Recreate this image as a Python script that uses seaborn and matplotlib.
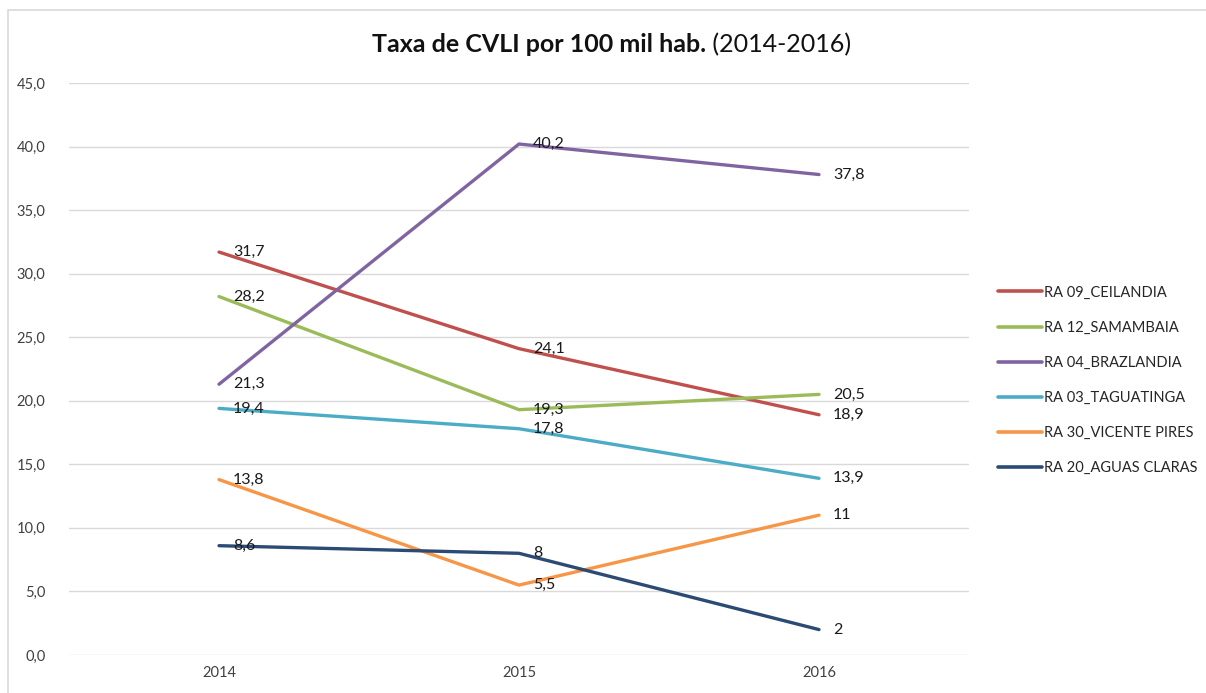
import matplotlib
matplotlib.use("Agg")
import matplotlib.pyplot as plt
import seaborn as sns
import pandas as pd
from matplotlib.patches import Rectangle

years = ["2014", "2015", "2016"]
series_names = ["RA 09_CEILANDIA", "RA 12_SAMAMBAIA", "RA 04_BRAZLANDIA",
                "RA 03_TAGUATINGA", "RA 30_VICENTE PIRES", "RA 20_AGUAS CLARAS"]
ceilandia = [31.7, 24.1, 18.9]
samambaia = [28.2, 19.3, 20.5]
brazlandia = [21.3, 40.2, 37.8]
taguatinga = [19.4, 17.8, 13.9]
vicente_pires = [13.8, 5.5, 11]
aguas_claras = [8.6, 8, 2]
colors = ["#C0504D", "#9BBB59", "#8064A2", "#4BACC6", "#F79646", "#2C4B74"]
yticks = [0, 5, 10, 15, 20, 25, 30, 35, 40, 45]

all_vals = [ceilandia, samambaia, brazlandia, taguatinga, vicente_pires, aguas_claras]
rows = []
for name, vals in zip(series_names, all_vals):
    for i, v in enumerate(vals):
        rows.append({"idx": i, "Ano": years[i], "Série": name, "Valor": v})
df = pd.DataFrame(rows)

sns.set_theme(style="white")
plt.rcParams["font.family"] = ["Lato", "DejaVu Sans"]

fig = plt.figure(figsize=(12.06, 6.93), dpi=100)
fig.patches.append(Rectangle((8 / 1206, -0.01), 1.2, 1.0 - 10 / 693 + 0.01,
                             transform=fig.transFigure, fill=False,
                             edgecolor="#D9D9D9", linewidth=1.2))
ax = fig.add_axes([69 / 1206, 1 - 655 / 693, 900 / 1206, (655 - 83) / 693])

sns.lineplot(data=df, x="idx", y="Valor", hue="Série", hue_order=series_names,
             palette=colors, linewidth=2.4, sort=False, ax=ax, legend=True)

def fmt(v):
    if float(v).is_integer():
        return str(int(v))
    return f"{v:.1f}".replace(".", ",")

for _, r in df.iterrows():
    ax.annotate(fmt(r["Valor"]), (r["idx"], r["Valor"]), xytext=(10, 0),
                textcoords="offset points", va="center", ha="left",
                fontsize=11.5, color="#1a1a1a")

ax.set_xlim(-0.5, 2.5)
ax.set_ylim(0, 45)
ax.set_xticks(range(len(years)))
ax.set_xticklabels(years)
ax.set_yticks(yticks)
ax.set_yticklabels([f"{t:.1f}".replace(".", ",") for t in yticks])
ax.tick_params(axis="both", length=0, labelsize=10.5, colors="#404040")
ax.tick_params(axis="y", pad=17)
ax.tick_params(axis="x", pad=8)
ax.grid(axis="y", color="#D9D9D9", linewidth=1)
for s in ax.spines.values():
    s.set_visible(False)
ax.set_xlabel("")
ax.set_ylabel("")

leg = ax.legend(loc="center left", bbox_to_anchor=(1.018, 0.48), frameon=False,
                fontsize=10.5, handlelength=3.0, handletextpad=0.15,
                labelspacing=1.45)
for line in leg.get_lines():
    line.set_linewidth(2.6)
for t in leg.get_texts():
    t.set_color("#262626")

# title with bold + regular parts
t1 = fig.text(0, 1 - 45 / 693, "Taxa de CVLI por 100 mil hab.", fontsize=18,
              fontweight="bold", va="center", ha="left", color="#111111")
t2 = fig.text(0, 1 - 45 / 693, " (2014-2016)", fontsize=18,
              va="center", ha="left", color="#111111")
fig.canvas.draw()
r = fig.canvas.get_renderer()
w1 = t1.get_window_extent(r).width
w2 = t2.get_window_extent(r).width
start = 612 - (w1 + w2) / 2
t1.set_x(start / 1206)
t2.set_x((start + w1) / 1206)

fig.savefig("out.png", dpi=100)
